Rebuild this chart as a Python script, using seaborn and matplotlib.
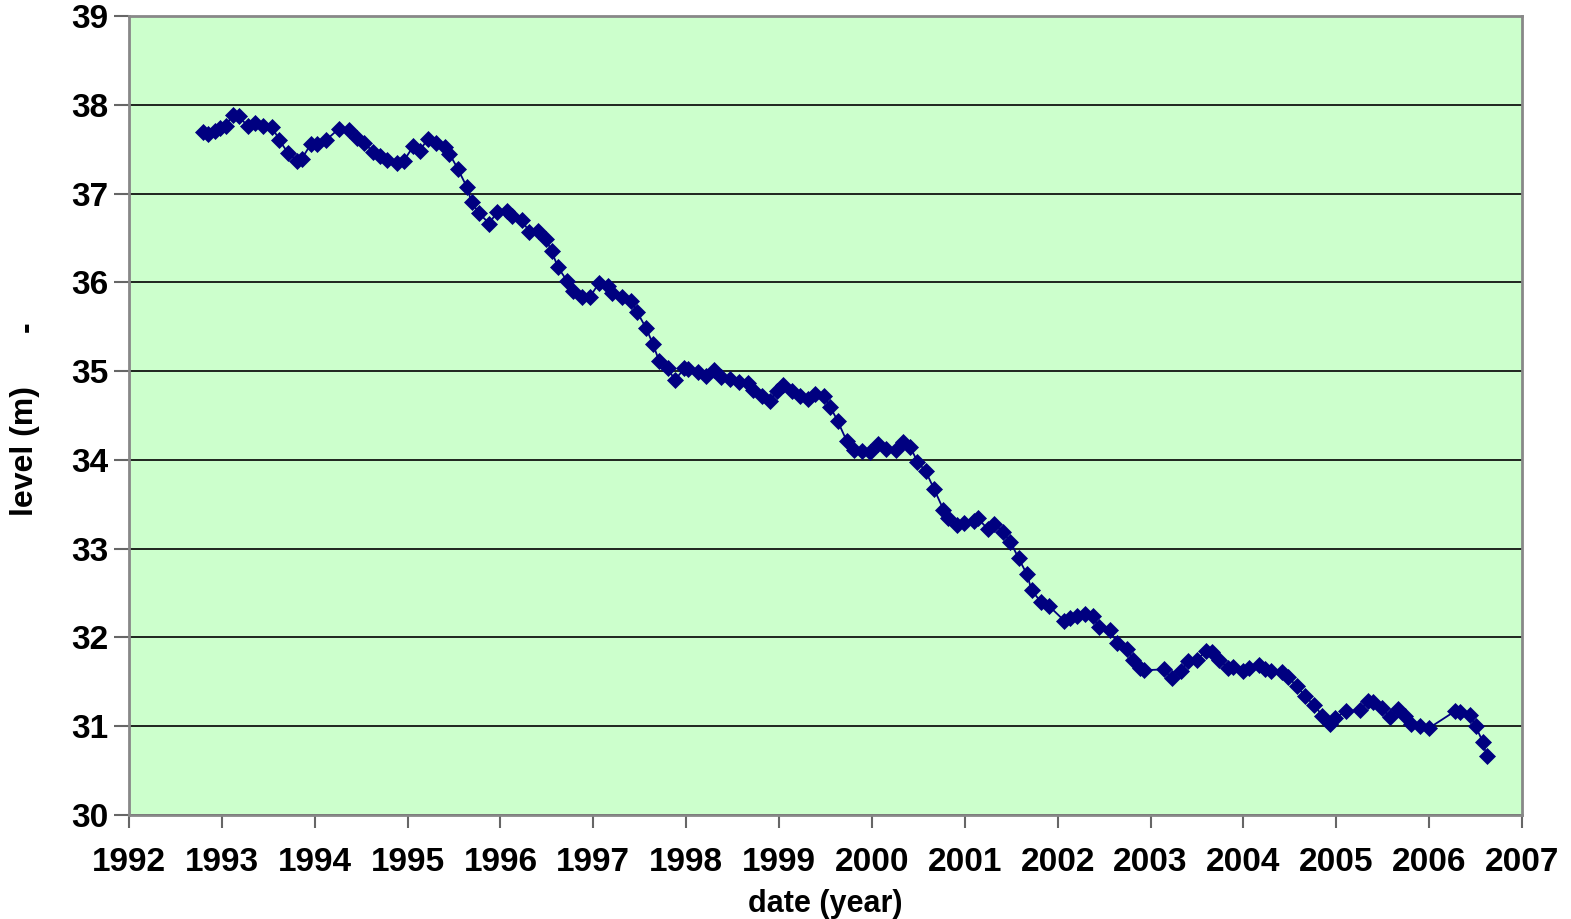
import seaborn as sns
import matplotlib.pyplot as plt
import pandas as pd

width, height, my_dpi = 1571, 919, 100

# decimal year of each reading
dates = [1992.80, 1992.85, 1992.93, 1992.98, 1993.04, 1993.12, 1993.18, 1993.28, 1993.36, 1993.44,
         1993.54, 1993.62, 1993.71, 1993.81, 1993.86, 1993.96, 1994.02, 1994.12, 1994.26, 1994.37,
         1994.46, 1994.53, 1994.63, 1994.70, 1994.78, 1994.89, 1994.96, 1995.06, 1995.13, 1995.22,
         1995.31, 1995.40, 1995.45, 1995.54, 1995.64, 1995.69, 1995.77, 1995.88, 1995.96, 1996.07,
         1996.12, 1996.23, 1996.31, 1996.40, 1996.49, 1996.55, 1996.62, 1996.72, 1996.78, 1996.88,
         1996.96, 1997.06, 1997.16, 1997.20, 1997.31, 1997.41, 1997.47, 1997.57, 1997.64, 1997.71,
         1997.80, 1997.88, 1997.98, 1998.02, 1998.13, 1998.21, 1998.30, 1998.37, 1998.47, 1998.57,
         1998.67, 1998.72, 1998.82, 1998.90, 1998.98, 1999.04, 1999.14, 1999.23, 1999.31, 1999.39,
         1999.48, 1999.55, 1999.63, 1999.73, 1999.81, 1999.89, 1999.98, 2000.07, 2000.15, 2000.26,
         2000.33, 2000.41, 2000.49, 2000.58, 2000.67, 2000.77, 2000.82, 2000.92, 2000.99, 2001.10,
         2001.14, 2001.25, 2001.32, 2001.41, 2001.49, 2001.58, 2001.67, 2001.72, 2001.82, 2001.91,
         2002.07, 2002.13, 2002.21, 2002.29, 2002.38, 2002.44, 2002.56, 2002.64, 2002.75, 2002.81,
         2002.89, 2002.93, 2003.14, 2003.23, 2003.33, 2003.40, 2003.50, 2003.60, 2003.66, 2003.74,
         2003.83, 2003.89, 2004.00, 2004.06, 2004.17, 2004.23, 2004.30, 2004.42, 2004.48, 2004.58,
         2004.66, 2004.76, 2004.85, 2004.93, 2004.99, 2005.10, 2005.26, 2005.34, 2005.40, 2005.49,
         2005.58, 2005.66, 2005.74, 2005.80, 2005.90, 2006.00, 2006.28, 2006.33, 2006.44, 2006.50,
         2006.58, 2006.62]

# water level (m)
level = [37.69, 37.67, 37.71, 37.74, 37.76, 37.89, 37.87, 37.76, 37.79, 37.76,
         37.75, 37.60, 37.46, 37.37, 37.39, 37.56, 37.56, 37.60, 37.73, 37.72,
         37.63, 37.57, 37.47, 37.42, 37.38, 37.34, 37.37, 37.53, 37.48, 37.62,
         37.57, 37.52, 37.45, 37.28, 37.07, 36.90, 36.78, 36.66, 36.79, 36.80,
         36.75, 36.70, 36.57, 36.58, 36.49, 36.35, 36.17, 36.01, 35.90, 35.84,
         35.83, 35.99, 35.96, 35.88, 35.84, 35.79, 35.67, 35.48, 35.31, 35.11,
         35.03, 34.90, 35.03, 35.02, 34.99, 34.94, 35.01, 34.93, 34.91, 34.88,
         34.87, 34.79, 34.72, 34.66, 34.78, 34.84, 34.78, 34.72, 34.69, 34.74,
         34.72, 34.60, 34.44, 34.21, 34.11, 34.10, 34.09, 34.18, 34.12, 34.11,
         34.20, 34.15, 33.98, 33.87, 33.67, 33.44, 33.34, 33.27, 33.29, 33.31,
         33.34, 33.22, 33.28, 33.19, 33.08, 32.89, 32.71, 32.53, 32.40, 32.35,
         32.19, 32.22, 32.24, 32.26, 32.24, 32.12, 32.08, 31.94, 31.87, 31.75,
         31.66, 31.63, 31.64, 31.54, 31.62, 31.73, 31.75, 31.85, 31.84, 31.75,
         31.66, 31.67, 31.62, 31.66, 31.69, 31.64, 31.62, 31.61, 31.55, 31.45,
         31.34, 31.24, 31.12, 31.03, 31.09, 31.17, 31.18, 31.28, 31.27, 31.21,
         31.10, 31.19, 31.11, 31.02, 31.00, 30.98, 31.17, 31.16, 31.13, 31.00,
         30.82, 30.66]

years = list(range(1992, 2008))
levels = list(range(30, 40))

df = pd.DataFrame({'date': dates, 'level': level})

sns.set_style('white')
plt.rcParams['font.family'] = ['Liberation Sans', 'DejaVu Sans']
plt.rcParams['font.weight'] = 'bold'
plt.rcParams['text.color'] = 'black'
plt.rcParams['axes.labelcolor'] = 'black'

fig = plt.figure(figsize=(width / my_dpi, height / my_dpi), dpi=my_dpi)
ax = fig.add_axes([0.0821, 0.1132, 0.8867, 0.8694])
ax.set_facecolor('#ccffcc')

sns.lineplot(x='date', y='level', data=df, ax=ax, color='#000080', linewidth=1.3,
             marker='D', markersize=8, markeredgecolor='#000080', markeredgewidth=0.5)

ax.set_xlim(1992, 2007)
ax.set_ylim(30, 39)
ax.set_xticks(years)
ax.set_yticks(levels)
ax.set_xticklabels([str(y) for y in years], fontsize=24, fontweight='bold', color='black')
ax.set_yticklabels([str(v) for v in levels], fontsize=24, fontweight='bold', color='black')
ax.yaxis.grid(True, color='black', linewidth=1.2)
ax.xaxis.grid(False)
ax.set_axisbelow(True)
ax.tick_params(axis='x', direction='out', length=9, width=1.5, color='#666666', pad=14, bottom=True)
ax.tick_params(axis='y', direction='out', length=11, width=1.5, color='#666666', pad=4, left=True)
for s in ax.spines.values():
    s.set_color('#888888')
    s.set_linewidth(2)

ax.set_xlabel('date (year)', fontsize=22, fontweight='bold', color='black', labelpad=8)
ax.set_ylabel('level (m)', fontsize=23, fontweight='bold', color='black')
ax.yaxis.set_label_coords(-0.064, 0.455)
fig.text(0.017, 0.645, '-', fontsize=23, fontweight='bold', rotation=90, ha='center', va='center')

plt.savefig('out.png', dpi=my_dpi)
